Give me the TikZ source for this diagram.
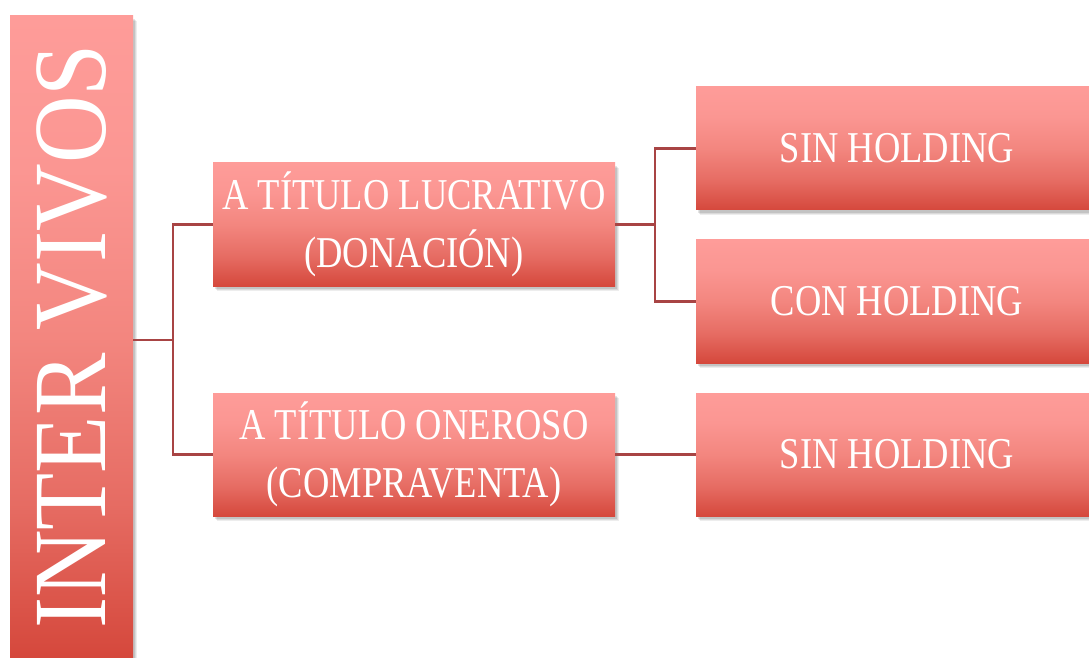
\documentclass[tikz,border=0pt]{standalone}
\usepackage{fontspec}
\setmainfont{Liberation Serif}
\newfontfamily\boxfont[FakeStretch=0.83]{Liberation Serif}
\newfontfamily\bigfont[FakeStretch=0.9]{Liberation Serif}
\definecolor{cTop}{RGB}{254,156,153}
\definecolor{cHi}{RGB}{251,150,146}
\definecolor{cMid}{RGB}{243,134,127}
\definecolor{cLo}{RGB}{230,108,99}
\definecolor{cBot}{RGB}{213,72,60}
\definecolor{cLine}{RGB}{168,68,68}
\pgfdeclareverticalshading{redgrad}{100bp}{color(0bp)=(cBot); color(25bp)=(cBot); color(37bp)=(cLo); color(50bp)=(cMid); color(63bp)=(cHi); color(75bp)=(cTop); color(100bp)=(cTop)}
\tikzset{
  softshadow/.style={
    preaction={fill=black, opacity=0.07, transform canvas={shift={(4pt,-5pt)}}},
    preaction={fill=black, opacity=0.08, transform canvas={shift={(3pt,-4pt)}}},
    preaction={fill=black, opacity=0.10, transform canvas={shift={(2pt,-3pt)}}}},
  redbox/.style={softshadow, shading=redgrad,
    draw=none, inner sep=0pt, align=center, text=white,
    font=\boxfont\fontsize{44}{58}\selectfont},
  itembox/.style={redbox, minimum width=402pt, minimum height=123pt},
  conn/.style={draw=cLine, line width=2.2pt}
}
\begin{document}
\begin{tikzpicture}[x=1pt,y=1pt]
\useasboundingbox (0,0) rectangle (1089,657);
\fill[white] (0,0) rectangle (1089,657);
\node[redbox, minimum width=123pt, minimum height=641pt] (big) at (71.5,320.5)
  {\bigfont\fontsize{104}{110}\selectfont\rotatebox{90}{INTER VIVOS}};
\node[itembox] (luc) at (414,432.5) {A TÍTULO LUCRATIVO\\(DONACIÓN)};
\node[itembox] (one) at (414,202.5) {A TÍTULO ONEROSO\\(COMPRAVENTA)};
\node[itembox] (s1) at (897,508.5) {SIN HOLDING};
\node[itembox] (c1) at (897,355.5) {CON HOLDING};
\node[itembox] (s2) at (897,202.5) {SIN HOLDING};
\coordinate (j1) at (173,317);
\coordinate (j2) at (655,432.5);
\draw[conn] ([yshift=-3.5pt]big.east) -- (j1);
\draw[conn] (j1) |- (luc.west);
\draw[conn] (j1) |- (one.west);
\draw[conn] (luc.east) -- (j2);
\draw[conn] (j2) |- (s1.west);
\draw[conn] (j2) |- (c1.west);
\draw[conn] (one.east) -- (s2.west);
\end{tikzpicture}
\end{document}
